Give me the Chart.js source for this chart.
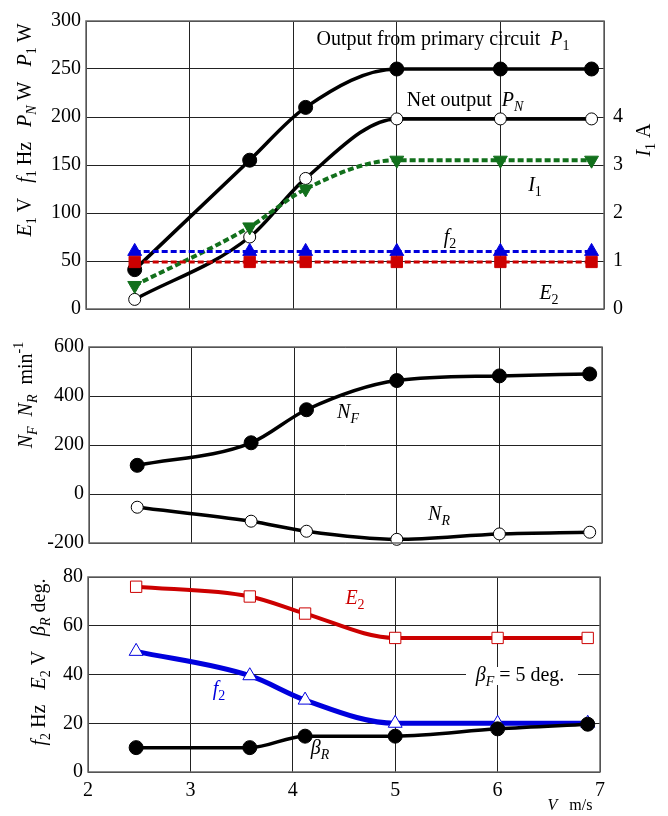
<!DOCTYPE html>
<html>
<head>
<meta charset="utf-8">
<script src="https://cdn.jsdelivr.net/npm/chart.js@4.4.1/dist/chart.umd.min.js"></script>
<style>
  body { margin: 0; background: #fff; }
  #wrap { position: relative; width: 668px; height: 816px; }
  canvas { position: absolute; left: 0; }
</style>
</head>
<body>
<div id="wrap">
  <canvas id="c1" width="668" height="330" style="top:0"></canvas>
  <canvas id="c2" width="668" height="230" style="top:330px"></canvas>
  <canvas id="c3" width="668" height="256" style="top:560px"></canvas>
</div>
<script>
// wind speed V (m/s) - same for all series
const speed = [2.47, 3.58, 4.12, 5.0, 6.0, 6.88];

// top panel
const p1 = [41, 155, 210, 250, 250, 250];      // P1 W
const pN = [10, 75, 136, 198, 198, 198];       // PN W
const i1 = [0.49, 1.71, 2.5, 3.1, 3.1, 3.1];   // I1 A (right axis)
const fTop = [60, 60, 60, 60, 60, 60];         // f Hz
const eTop = [49, 49, 49, 49, 49, 49];         // E V

// middle panel
const nF = [117, 209, 344, 463, 482, 490];
const nR = [-54, -111, -152, -185, -163, -156];

// bottom panel
const e2 = [76, 72, 65, 55, 55, 55];
const f2 = [49.5, 39.5, 29.5, 20, 20, 20];
const betaR = [10, 10, 14.7, 14.7, 17.7, 19.6];

const xTicks = [2, 3, 4, 5, 6, 7];

const FONT = "'Liberation Serif', 'Times New Roman', serif";
const GREEN = "#12701c", BLUE = "#0000dd", RED = "#cc0000";

function pts(ys) {
    return speed.map((x, i) => ({ x: x, y: ys[i] }));
}

// draw text made of runs: [text, flags]  i = italic, b = subscript, p = superscript
function richText(ctx, runs, x, y, size, color, rotate) {
    ctx.save();
    ctx.translate(x, y);
    if (rotate) ctx.rotate(-Math.PI / 2);
    let w = 0;
    const parts = runs.map(([t, f = ""]) => {
        const small = /[bp]/.test(f);
        const s = small ? size * 0.7 : size;
        const font = (f.includes("i") ? "italic " : "") + s + "px " + FONT;
        ctx.font = font;
        const p = { t, font, x: w, dy: f.includes("b") ? size * 0.34 : f.includes("p") ? -size * 0.38 : 0 };
        w += ctx.measureText(t).width;
        return p;
    });
    ctx.fillStyle = color;
    ctx.textBaseline = "middle";
    ctx.textAlign = "left";
    parts.forEach(p => { ctx.font = p.font; ctx.fillText(p.t, p.x - w / 2, p.dy); });
    ctx.restore();
    return w;
}

// frame + text labels
const labelsPlugin = {
    id: "labels",
    afterDatasetsDraw(chart, args, opts) {
        const ctx = chart.ctx, a = chart.chartArea;
        ctx.save();
        ctx.strokeStyle = "#666";
        ctx.lineWidth = 1.5;
        ctx.strokeRect(a.left, a.top, a.right - a.left, a.bottom - a.top);
        ctx.restore();
        (opts.items || []).forEach(it => {
            if (it.bg) {
                ctx.save();
                ctx.fillStyle = "#fff";
                ctx.fillRect(it.bg[0], it.bg[1], it.bg[2], it.bg[3]);
                ctx.restore();
            }
            richText(ctx, it.runs, it.x, it.y - opts.top, it.size || 20, it.color || "#000", it.rotate);
        });
    }
};

function xScale(showTicks, h) {
    return {
        type: "linear", min: 2, max: 7,
        afterBuildTicks: s => { s.ticks = xTicks.map(v => ({ value: v })); },
        grid: { color: "#222", lineWidth: 1, drawTicks: false },
        border: { display: false },
        ticks: { display: showTicks, padding: 7, color: "#000", font: { family: FONT, size: 20 }, autoSkip: false },
        afterFit: s => { s.height = h; }
    };
}

function yScale(min, max, step, w, pos) {
    return {
        type: "linear", position: pos || "left", min: min, max: max,
        grid: { color: "#222", lineWidth: 1, drawTicks: false, display: !pos },
        border: { display: false },
        ticks: { stepSize: step, padding: pos ? 9 : 5, color: "#000", font: { family: FONT, size: 20 }, autoSkip: false },
        afterFit: s => { s.width = w; }
    };
}

function line(data, color, opts) {
    return Object.assign({
        data: data,
        borderColor: color,
        backgroundColor: color,
        pointBorderColor: color,
        pointBackgroundColor: color,
        borderWidth: 3.5,
        pointRadius: 7,
        pointBorderWidth: 1,
        cubicInterpolationMode: "monotone",
        clip: false
    }, opts || {});
}

const common = {
    responsive: false,
    animation: false,
    plugins: { legend: { display: false }, tooltip: { enabled: false } }
};

// ---- top panel
new Chart(document.getElementById("c1"), {
    type: "line",
    data: {
        datasets: [
            line(pts(eTop), RED, { borderDash: [6, 3], borderWidth: 3, pointStyle: "rect", pointRadius: 8 }),
            line(pts(fTop), BLUE, { borderDash: [6, 3], borderWidth: 3, pointStyle: "triangle", pointRadius: 8 }),
            line(pts(i1), GREEN, { yAxisID: "y2", borderDash: [6, 3], borderWidth: 4, pointStyle: "triangle", rotation: 180, pointRadius: 8 }),
            line(pts(pN), "#000", { pointBackgroundColor: "#fff", pointRadius: 6 }),
            line(pts(p1), "#000", { pointRadius: 7 })
        ]
    },
    options: Object.assign({}, common, {
        layout: { padding: { top: 19, left: 0, right: 0, bottom: 0 } },
        scales: {
            x: xScale(false, 6),
            y: yScale(0, 300, 50, 86),
            y2: Object.assign(yScale(0, 6, 1, 64, "right"), {
                afterBuildTicks: s => { s.ticks = [0, 1, 2, 3, 4].map(v => ({ value: v })); }
            })
        },
        plugins: Object.assign({}, common.plugins, {
            labels: {
                top: 0,
                items: [
                    { runs: [["Output from primary circuit  "], ["P", "i"], ["1", "b"]], x: 443, y: 40 },
                    { runs: [["Net output  "], ["P", "i"], ["N", "ib"]], x: 465, y: 101 },
                    { runs: [["I", "i"], ["1", "b"]], x: 535, y: 186 },
                    { runs: [["f", "i"], ["2", "b"]], x: 450, y: 238 },
                    { runs: [["E", "i"], ["2", "b"]], x: 549, y: 294 },
                    { runs: [["E", "i"], ["1", "b"], [" V   "], ["f", "i"], ["1", "b"], [" Hz   "], ["P", "i"], ["N", "ib"], [" W   "], ["P", "i"], ["1", "b"], [" W"]], x: 26, y: 130, size: 20, rotate: true },
                    { runs: [["I", "i"], ["1", "b"], [" A"]], x: 645, y: 140, size: 20, rotate: true }
                ]
            }
        })
    }),
    plugins: [labelsPlugin]
});

// ---- middle panel
new Chart(document.getElementById("c2"), {
    type: "line",
    data: {
        datasets: [
            line(pts(nR), "#000", { pointBackgroundColor: "#fff", pointRadius: 6 }),
            line(pts(nF), "#000", { pointRadius: 7 })
        ]
    },
    options: Object.assign({}, common, {
        layout: { padding: { top: 12, left: 0, right: 66, bottom: 0 } },
        scales: {
            x: xScale(false, 10),
            y: yScale(-200, 600, 200, 89)
        },
        plugins: Object.assign({}, common.plugins, {
            labels: {
                top: 330,
                items: [
                    { runs: [["N", "i"], ["F", "ib"]], x: 348, y: 413 },
                    { runs: [["N", "i"], ["R", "ib"]], x: 439, y: 515 },
                    { runs: [["N", "i"], ["F", "ib"], ["  "], ["N", "i"], ["R", "ib"], ["  min"], ["-1", "p"]], x: 27, y: 395, size: 20, rotate: true }
                ]
            }
        })
    }),
    plugins: [labelsPlugin]
});

// ---- bottom panel
new Chart(document.getElementById("c3"), {
    type: "line",
    data: {
        datasets: [
            line(pts(betaR), "#000", { pointRadius: 7 }),
            line(pts(f2), BLUE, { borderWidth: 5, pointStyle: "triangle", pointBackgroundColor: "#fff", pointRadius: 8 }),
            line(pts(e2), RED, { borderWidth: 4, pointStyle: "rect", pointBackgroundColor: "#fff", pointRadius: 8 })
        ]
    },
    options: Object.assign({}, common, {
        layout: { padding: { top: 8, left: 0, right: 68, bottom: 0 } },
        scales: {
            x: xScale(true, 44),
            y: yScale(0, 80, 20, 88)
        },
        plugins: Object.assign({}, common.plugins, {
            labels: {
                top: 560,
                items: [
                    { runs: [["E", "i"], ["2", "b"]], x: 355, y: 599, color: RED },
                    { runs: [["f", "i"], ["2", "b"]], x: 219, y: 690, color: BLUE },
                    { runs: [["β", "i"], ["R", "ib"]], x: 320, y: 749 },
                    { runs: [["β", "i"], ["F", "ib"], [" = 5 deg."]], x: 520, y: 676, bg: [466, 107, 112, 18] },
                    { runs: [["V", "i"], ["   m/s"]], x: 570, y: 806, size: 16 },
                    { runs: [["f", "i"], ["2", "b"], [" Hz   "], ["E", "i"], ["2", "b"], [" V   "], ["β", "i"], ["R", "ib"], [" deg."]], x: 40, y: 662, size: 20, rotate: true }
                ]
            }
        })
    }),
    plugins: [labelsPlugin]
});
</script>
</body>
</html>
